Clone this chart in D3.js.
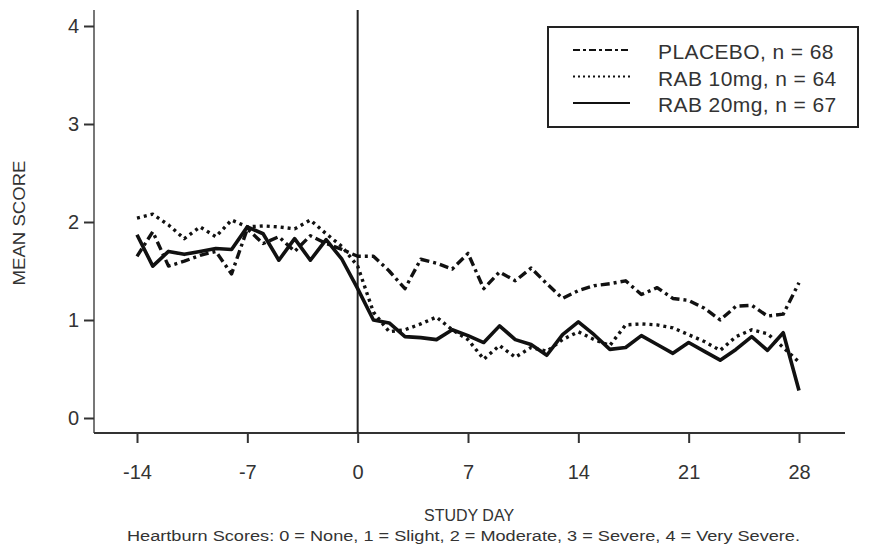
<!DOCTYPE html>
<html>
<head>
<meta charset="utf-8">
<script src="https://cdn.jsdelivr.net/npm/d3@7"></script>
<style>
  html, body { margin: 0; padding: 0; background: #fff; }
  svg { display: block; font-family: "Liberation Sans", Arial, sans-serif; }
</style>
</head>
<body>
<svg id="chart" width="892" height="546"></svg>
<script>
// ---- data ----
const days = d3.range(-14, 29);
const placebo = [1.65,1.90,1.55,1.60,1.66,1.70,1.47,1.93,1.78,1.85,1.70,1.86,1.78,1.72,1.65,
                 1.65,1.50,1.32,1.62,1.58,1.52,1.68,1.32,1.49,1.40,1.53,1.37,1.22,1.30,
                 1.35,1.37,1.40,1.26,1.33,1.22,1.20,1.12,1.00,1.14,1.15,1.04,1.06,1.38];
const rab10 =   [2.04,2.08,1.97,1.83,1.95,1.85,2.02,1.95,1.96,1.95,1.93,2.02,1.88,1.75,1.55,
                 1.08,0.88,0.90,0.96,1.03,0.90,0.80,0.60,0.74,0.62,0.72,0.68,0.80,0.88,
                 0.80,0.74,0.95,0.96,0.95,0.92,0.85,0.78,0.69,0.83,0.90,0.86,0.72,0.57];
const rab20 =   [1.87,1.55,1.70,1.67,1.70,1.73,1.72,1.95,1.88,1.61,1.83,1.61,1.82,1.62,1.32,
                 1.00,0.97,0.83,0.82,0.80,0.90,0.84,0.77,0.94,0.80,0.75,0.64,0.85,0.98,
                 0.85,0.70,0.72,0.84,0.75,0.66,0.77,0.68,0.59,0.70,0.83,0.69,0.87,0.28];
const seriesNames = ["PLACEBO, n = 68", "RAB 10mg, n = 64", "RAB 20mg, n = 67"];
const xTicks = [-14, -7, 0, 7, 14, 21, 28];
const yTicks = [0, 1, 2, 3, 4];
const xTitle = "STUDY DAY";
const yTitle = "MEAN SCORE";
const footnote = "Heartburn Scores: 0 = None, 1 = Slight, 2 = Moderate, 3 = Severe, 4 = Very Severe.";

// ---- layout ----
const svg = d3.select("#chart");
const x = d3.scaleLinear().domain([-14, 28]).range([137, 799]);
const y = d3.scaleLinear().domain([0, 4]).range([418, 26]);
const axisLeftX = 94, axisBottomY = 433, plotTop = 10, plotRight = 845;
const textColor = "#333";

// axis lines
svg.append("line").attr("x1", axisLeftX).attr("x2", axisLeftX)
  .attr("y1", plotTop).attr("y2", axisBottomY)
  .attr("stroke", "#555").attr("stroke-width", 1.6);
svg.append("line").attr("x1", axisLeftX).attr("x2", plotRight)
  .attr("y1", axisBottomY).attr("y2", axisBottomY)
  .attr("stroke", "#333").attr("stroke-width", 1.8);

// y axis ticks
const gy = svg.append("g").attr("transform", `translate(${axisLeftX},0)`)
  .call(d3.axisLeft(y).tickValues(yTicks).tickFormat(d3.format("d")).tickSize(10).tickPadding(5));
gy.select(".domain").remove();
gy.selectAll(".tick line").attr("stroke", "#333").attr("stroke-width", 2);
gy.selectAll(".tick text").attr("font-size", 20).attr("fill", textColor)
  .attr("font-family", "Liberation Sans, Arial, sans-serif");

// x axis ticks
const gx = svg.append("g").attr("transform", `translate(0,${axisBottomY})`)
  .call(d3.axisBottom(x).tickValues(xTicks).tickFormat(d3.format("d")).tickSize(10).tickPadding(22));
gx.select(".domain").remove();
gx.selectAll(".tick line").attr("stroke", "#333").attr("stroke-width", 2);
gx.selectAll(".tick text").attr("font-size", 20).attr("fill", textColor)
  .attr("font-family", "Liberation Sans, Arial, sans-serif")
  .text(d => d < 0 ? "-" + Math.abs(d) : d);

// vertical line at day 0
svg.append("line").attr("x1", x(0)).attr("x2", x(0))
  .attr("y1", plotTop).attr("y2", axisBottomY)
  .attr("stroke", "#222").attr("stroke-width", 2);

// series
const styles = [
  { data: placebo, dash: "9,4,3,4", width: 3.4 },
  { data: rab10, dash: "3,4", width: 3.4 },
  { data: rab20, dash: null, width: 3.6 }
];
const line = d3.line().x((d, i) => x(days[i])).y(d => y(d));
styles.forEach(s => {
  svg.append("path").datum(s.data)
    .attr("d", line)
    .attr("fill", "none")
    .attr("stroke", "#111")
    .attr("stroke-width", s.width)
    .attr("stroke-linejoin", "round")
    .attr("stroke-dasharray", s.dash);
});

// legend
const lg = svg.append("g");
lg.append("rect").attr("x", 548).attr("y", 27).attr("width", 310).attr("height", 100)
  .attr("fill", "#fff").attr("stroke", "#222").attr("stroke-width", 2);
const legendStyles = [
  { dash: "7,3,3,3", width: 2 },
  { dash: "2,3", width: 2 },
  { dash: null, width: 2.2 }
];
seriesNames.forEach((name, i) => {
  const cy = 52 + i * 26.5;
  lg.append("line").attr("x1", 573).attr("x2", 630).attr("y1", cy - 2).attr("y2", cy - 2)
    .attr("stroke", "#111").attr("stroke-width", legendStyles[i].width)
    .attr("stroke-dasharray", legendStyles[i].dash);
  lg.append("text").attr("x", 658).attr("y", cy + 7)
    .attr("font-size", 21).attr("letter-spacing", 0.4).attr("fill", textColor).text(name);
});

// titles
svg.append("text").attr("transform", "translate(25,223) rotate(-90)")
  .attr("text-anchor", "middle").attr("font-size", 17).attr("fill", textColor)
  .attr("textLength", 125).attr("lengthAdjust", "spacingAndGlyphs")
  .text(yTitle);
svg.append("text").attr("x", 469).attr("y", 521)
  .attr("text-anchor", "middle").attr("font-size", 16).attr("fill", textColor)
  .text(xTitle);
svg.append("text").attr("x", 127).attr("y", 541)
  .attr("font-size", 15.5).attr("fill", textColor)
  .attr("textLength", 673).attr("lengthAdjust", "spacingAndGlyphs")
  .text(footnote);
</script>
</body>
</html>
